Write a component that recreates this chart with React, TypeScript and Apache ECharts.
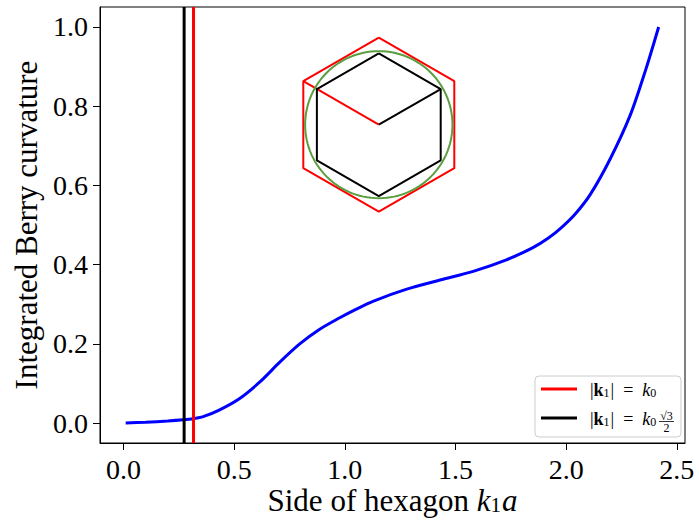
import React, { useEffect, useRef } from "react";
import * as echarts from "echarts";

// Main curve
const curveX = [0.01, 0.1, 0.2, 0.27, 0.316, 0.36, 0.43, 0.52, 0.615, 0.705, 0.795, 0.885, 0.975, 1.05, 1.13, 1.28, 1.43, 1.58, 1.73, 1.85, 1.92, 1.98, 2.04, 2.11, 2.2, 2.29, 2.36, 2.418];
const curveY = [0.0, 0.002, 0.005, 0.008, 0.011, 0.016, 0.032, 0.06, 0.103, 0.153, 0.199, 0.236, 0.265, 0.287, 0.308, 0.338, 0.361, 0.383, 0.412, 0.443, 0.467, 0.494, 0.527, 0.578, 0.668, 0.778, 0.893, 1.0];

// Vertical reference lines
const k0 = 0.3165;
const kBlack = (k0 * Math.sqrt(3)) / 2;

// Axes
const xTicks = [0, 0.5, 1.0, 1.5, 2.0, 2.5];
const yTicks = [0, 0.2, 0.4, 0.6, 0.8, 1.0];
const xRange = [-0.106, 2.537];
const yRange = [-0.0505, 1.0505];
const xTitle = "Side of hexagon {i|k}{s|1}{i|a}";
const yTitle = "Integrated Berry curvature";

// Inset geometry (in inset units)
const redHexR = 1;
const blackHexR = 0.82;
const circleR = 0.845;

const FONT = "Liberation Serif, DejaVu Serif, serif";

function hexPoints(r: number): number[][] {
  const angles = [90, 150, 210, 270, 330, 30, 90];
  return angles.map((a) => [r * Math.cos((a * Math.PI) / 180), r * Math.sin((a * Math.PI) / 180)]);
}
function vertex(r: number, a: number): number[] {
  return [r * Math.cos((a * Math.PI) / 180), r * Math.sin((a * Math.PI) / 180)];
}
function circlePoints(r: number): number[][] {
  const pts: number[][] = [];
  for (let i = 0; i <= 120; i++) {
    const t = (i / 120) * Math.PI * 2;
    pts.push([r * Math.cos(t), r * Math.sin(t)]);
  }
  return pts;
}

const richMath = {
  n: { fontFamily: FONT, fontSize: 18, color: "#000" },
  b: { fontFamily: FONT, fontSize: 18, fontWeight: "bold", color: "#000" },
  i: { fontFamily: FONT, fontSize: 18, fontStyle: "italic", color: "#000" },
  s: { fontFamily: FONT, fontSize: 12, lineHeight: 12, color: "#000", verticalAlign: "bottom", padding: [12, 1, 0, 0] },
};

export default function App() {
  const ref = useRef<HTMLDivElement>(null);
  useEffect(() => {
    document.body.style.margin = "0";
    if (!ref.current) return;
    const chart = echarts.init(ref.current, null, { renderer: "svg" });
    const lineStyleNone = { show: false };
    const option: any = {
      animation: false,
      backgroundColor: "#fff",
      grid: [
        { left: 100, top: 7, width: 585, height: 436, show: true, borderColor: "#000", borderWidth: 1, backgroundColor: "transparent", containLabel: false, outerBoundsMode: "none" },
        { left: 303.3, top: 37.7, width: 151, height: 174, show: false, outerBoundsMode: "none" },
      ],
      xAxis: [
        {
          type: "value",
          gridIndex: 0,
          min: xRange[0],
          max: xRange[1],
          axisLine: { show: true, onZero: false, lineStyle: { color: "#000", width: 1 } },
          axisTick: { show: true, length: 7, customValues: xTicks, lineStyle: { color: "#000", width: 1 } },
          axisLabel: { customValues: xTicks, formatter: (v: number) => v.toFixed(1), fontFamily: FONT, fontSize: 28, color: "#000", margin: 12 },
          splitLine: { show: false },
        },
        { type: "value", gridIndex: 1, min: -Math.sqrt(3) / 2, max: Math.sqrt(3) / 2, show: false, splitLine: lineStyleNone },
      ],
      yAxis: [
        {
          type: "value",
          gridIndex: 0,
          min: yRange[0],
          max: yRange[1],
          axisLine: { show: true, onZero: false, lineStyle: { color: "#000", width: 1 } },
          axisTick: { show: true, length: 7, customValues: yTicks, lineStyle: { color: "#000", width: 1 } },
          axisLabel: { customValues: yTicks, formatter: (v: number) => v.toFixed(1), fontFamily: FONT, fontSize: 28, color: "#000", margin: 12 },
          splitLine: { show: false },
          name: yTitle,
          nameLocation: "middle",
          nameGap: 58,
          nameRotate: 90,
          nameTextStyle: { fontFamily: FONT, fontSize: 31, color: "#000" },
        },
        { type: "value", gridIndex: 1, min: -1, max: 1, show: false, splitLine: lineStyleNone },
      ],
      series: [
        {
          type: "line",
          xAxisIndex: 0,
          yAxisIndex: 0,
          data: curveX.map((x, i) => [x, curveY[i]]),
          smooth: 0.3,
          showSymbol: false,
          lineStyle: { color: "#0000ff", width: 3 },
        },
        {
          type: "line",
          xAxisIndex: 0,
          yAxisIndex: 0,
          data: [[kBlack, yRange[0]], [kBlack, yRange[1]]],
          showSymbol: false,
          lineStyle: { color: "#000", width: 3 },
        },
        {
          type: "line",
          xAxisIndex: 0,
          yAxisIndex: 0,
          data: [[k0, yRange[0]], [k0, yRange[1]]],
          showSymbol: false,
          lineStyle: { color: "#ff0000", width: 3 },
        },
        {
          type: "line",
          xAxisIndex: 1,
          yAxisIndex: 1,
          data: hexPoints(redHexR),
          showSymbol: false,
          clip: false,
          lineStyle: { color: "#ff0000", width: 2 },
        },
        {
          type: "line",
          xAxisIndex: 1,
          yAxisIndex: 1,
          data: [[0, 0], vertex(redHexR, 150)],
          showSymbol: false,
          clip: false,
          lineStyle: { color: "#ff0000", width: 2 },
        },
        {
          type: "line",
          xAxisIndex: 1,
          yAxisIndex: 1,
          data: hexPoints(blackHexR),
          showSymbol: false,
          clip: false,
          lineStyle: { color: "#000", width: 2 },
        },
        {
          type: "line",
          xAxisIndex: 1,
          yAxisIndex: 1,
          data: [[0, 0], vertex(blackHexR, 30)],
          showSymbol: false,
          clip: false,
          lineStyle: { color: "#000", width: 2 },
        },
        {
          type: "line",
          xAxisIndex: 1,
          yAxisIndex: 1,
          data: circlePoints(circleR),
          showSymbol: false,
          clip: false,
          lineStyle: { color: "#5a9e40", width: 2 },
        },
      ],
      graphic: [
        {
          type: "text",
          x: 392.5,
          y: 500,
          style: {
            text: xTitle,
            fontFamily: FONT,
            fontSize: 31,
            fill: "#000",
            align: "center",
            verticalAlign: "middle",
            rich: {
              i: { fontFamily: FONT, fontSize: 31, fontStyle: "italic", color: "#000" },
              s: { fontFamily: FONT, fontSize: 21, lineHeight: 21, color: "#000", verticalAlign: "bottom", padding: [19, 1, 0, 0] },
            },
          },
        },
        {
          type: "rect",
          shape: { x: 535, y: 376, width: 146, height: 61, r: 4 },
          style: { fill: "rgba(255,255,255,0.85)", stroke: "#cccccc", lineWidth: 1 },
          z: 10,
        },
        { type: "line", shape: { x1: 541, y1: 389, x2: 577, y2: 389 }, style: { stroke: "#ff0000", lineWidth: 3 }, z: 11 },
        { type: "line", shape: { x1: 541, y1: 418, x2: 577, y2: 418 }, style: { stroke: "#000", lineWidth: 3 }, z: 11 },
        {
          type: "text",
          x: 590,
          y: 390,
          z: 11,
          style: {
            text: "{n||}{b|k}{s|1}{n||  =  }{i|k}{s|0}",
            fontFamily: FONT,
            fontSize: 18,
            fill: "#000",
            verticalAlign: "middle",
            rich: richMath,
          },
        },
        {
          type: "text",
          x: 590,
          y: 419,
          z: 11,
          style: {
            text: "{n||}{b|k}{s|1}{n||  =  }{i|k}{s|0}",
            fontFamily: FONT,
            fontSize: 18,
            fill: "#000",
            verticalAlign: "middle",
            rich: richMath,
          },
        },
        {
          type: "text",
          x: 666.5,
          y: 415.5,
          z: 11,
          style: { text: "√3", fontFamily: FONT, fontSize: 12, lineHeight: 9, fill: "#000", align: "center", verticalAlign: "middle" },
        },
        { type: "line", shape: { x1: 659, y1: 421.5, x2: 674, y2: 421.5 }, style: { stroke: "#000", lineWidth: 0.8 }, z: 11 },
        {
          type: "text",
          x: 666.5,
          y: 428,
          z: 11,
          style: { text: "2", fontFamily: FONT, fontSize: 12, lineHeight: 9, fill: "#000", align: "center", verticalAlign: "middle" },
        },
      ],
    };
    chart.setOption(option);
    return () => chart.dispose();
  }, []);
  return <div ref={ref} style={{ width: 699, height: 525 }} />;
}
